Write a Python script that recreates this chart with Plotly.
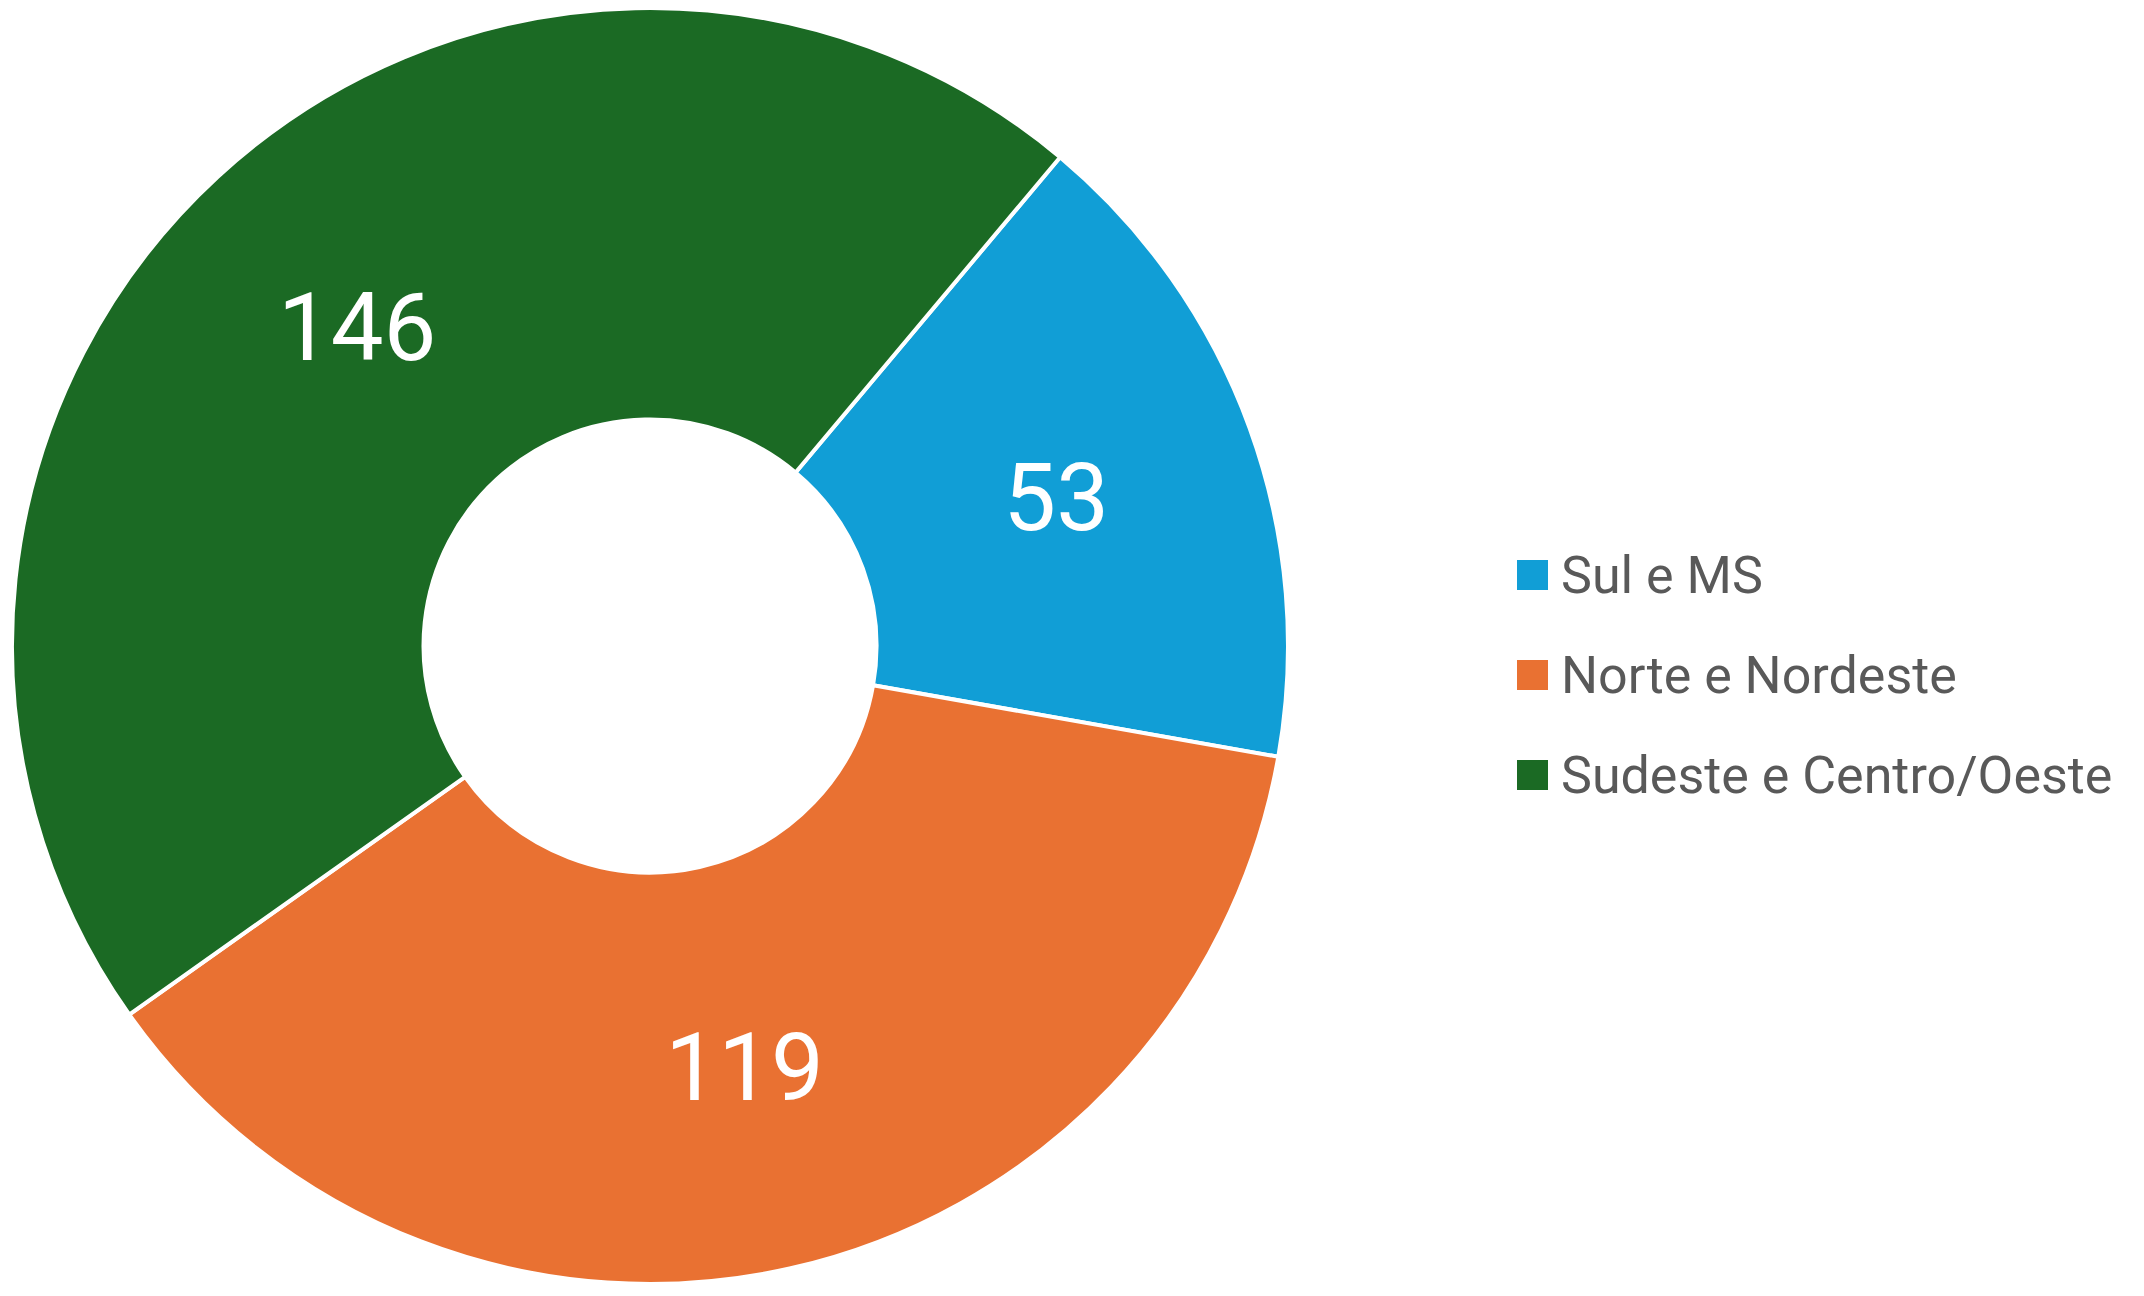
import plotly.graph_objects as go

labels = ["Sul e MS", "Norte e Nordeste", "Sudeste e Centro/Oeste"]
values = [53, 119, 146]
colors = ["#119ED6", "#E97132", "#1B6A24"]

FONT = "Roboto"

fig = go.Figure()
fig.add_trace(go.Pie(
    labels=labels,
    values=values,
    sort=False,
    direction="clockwise",
    rotation=40,
    hole=0.355,
    marker=dict(colors=colors, line=dict(color="white", width=4)),
    textinfo="value",
    textposition="inside",
    insidetextorientation="horizontal",
    textfont=dict(family=FONT, size=94, color="white"),
    showlegend=False,
    domain=dict(x=[3 / 2144, 1281 / 2144], y=[20 / 1296, 1296 / 1296]),
))

# legend built from the series
ys = [567, 667, 767]
shapes = []
annotations = []
for lab, col, yy in zip(labels, colors, ys):
    shapes.append(dict(type="rect", xref="paper", yref="paper",
                       x0=1509 / 2144, x1=1540 / 2144,
                       y0=1 - (yy + 15) / 1296, y1=1 - (yy - 15) / 1296,
                       fillcolor=col, line=dict(width=0)))
    annotations.append(dict(text=lab, xref="paper", yref="paper",
                            x=1551 / 2144, y=1 - yy / 1296,
                            xanchor="left", yanchor="middle", showarrow=False,
                            font=dict(family=FONT, size=52, color="#595959")))

fig.update_layout(
    width=2144, height=1296,
    margin=dict(l=0, r=0, t=0, b=0),
    paper_bgcolor="white", plot_bgcolor="white",
    shapes=shapes, annotations=annotations,
)
fig.write_html("out.html")
